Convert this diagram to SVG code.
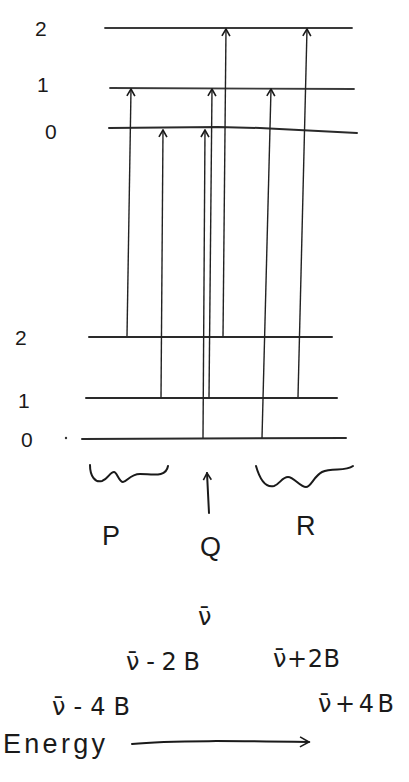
<svg xmlns="http://www.w3.org/2000/svg" width="409" height="782" viewBox="0 0 409 782">
<style>
  .lvl{stroke:#2a2a2a;stroke-width:2;fill:none;stroke-linecap:round}
  .lvlu{stroke:#3a3a3a;stroke-width:1.8;fill:none;stroke-linecap:round}
  .tr{stroke:#222;stroke-width:1.4;fill:none}
  .ink{stroke:#1a1a1a;stroke-width:2;fill:none;stroke-linecap:round;stroke-linejoin:round}
  .num{font-family:"Liberation Sans",Arial,sans-serif;font-size:21px;fill:#1a1a1a}
  .big{font-family:"Liberation Sans",Arial,sans-serif;font-size:27px;fill:#1a1a1a}
  .nu{font-family:"DejaVu Sans","Liberation Sans",sans-serif;font-size:24px;fill:#1a1a1a}
</style>
<defs>
  <marker id="ah" markerWidth="10" markerHeight="10" refX="9" refY="5" orient="auto" markerUnits="userSpaceOnUse" viewBox="0 0 10 10">
    <path d="M2,1 L9,5 L2,9" fill="none" stroke="#1a1a1a" stroke-width="1.6"/>
  </marker>
  <marker id="ah2" markerWidth="12" markerHeight="12" refX="10" refY="6" orient="auto" markerUnits="userSpaceOnUse" viewBox="0 0 12 12">
    <path d="M1,1 L10,6 L1,11" fill="none" stroke="#1a1a1a" stroke-width="1.6"/>
  </marker>
</defs>
<rect width="409" height="782" fill="#ffffff"/>

<g id="upper-levels">
  <g id="u2"><line class="lvlu" x1="105" y1="28" x2="352" y2="28"/><text class="num" x="35" y="36">2</text></g>
  <g id="u1"><line class="lvlu" x1="110" y1="88" x2="354" y2="89"/><text class="num" x="37" y="92">1</text></g>
  <g id="u0"><path class="lvl" d="M109,128 L218,127 L260,128 L357,133"/><text class="num" x="45" y="139">0</text></g>
</g>

<g id="lower-levels">
  <g id="l2"><line class="lvl" x1="89" y1="337" x2="332" y2="337"/><text class="num" x="15" y="345">2</text></g>
  <g id="l1"><line class="lvl" x1="86" y1="398" x2="337" y2="398"/><text class="num" x="18" y="408">1</text></g>
  <g id="l0"><line class="lvl" x1="82" y1="439" x2="346" y2="438"/><text class="num" x="21" y="447">0</text><circle cx="66" cy="438" r="1.2" fill="#333"/></g>
</g>

<g id="connectors">
  <line class="tr" x1="127" y1="336" x2="131" y2="89" marker-end="url(#ah)"/>
  <line class="tr" x1="161" y1="398" x2="163" y2="130" marker-end="url(#ah)"/>
  <line class="tr" x1="203" y1="438" x2="205" y2="130" marker-end="url(#ah)"/>
  <line class="tr" x1="209" y1="398" x2="212" y2="89" marker-end="url(#ah)"/>
  <line class="tr" x1="223" y1="337" x2="226" y2="29" marker-end="url(#ah)"/>
  <line class="tr" x1="262" y1="438" x2="271" y2="89" marker-end="url(#ah)"/>
  <line class="tr" x1="298" y1="397" x2="307" y2="29" marker-end="url(#ah)"/>
</g>

<g id="branch-P">
  <path class="ink" d="M90,465 C90,476 95,483 102,481 C108,479 110,472 114,472 C117,472 119,482 123,482 C127,482 130,474 140,474 C152,474 166,478 168,466"/>
  <text class="big" x="102" y="545">P</text>
</g>
<g id="branch-Q">
  <line class="ink" x1="209" y1="513" x2="207" y2="473" marker-end="url(#ah)"/>
  <text class="big" x="200" y="556">Q</text>
</g>
<g id="branch-R">
  <path class="ink" d="M256,466 C260,480 266,488 274,486 C280,484 282,477 288,477 C294,477 300,487 306,487 C311,487 314,476 322,472 C332,467 345,472 353,466"/>
  <text class="big" x="296" y="535">R</text>
</g>

<g id="frequencies">
  <text class="nu" x="198" y="625">ν̄</text>
  <text class="nu" x="126" y="670" textLength="74" lengthAdjust="spacing">ν̄-2B</text>
  <text class="nu" x="273" y="667" textLength="67" lengthAdjust="spacing">ν̄+2B</text>
  <text class="nu" x="52" y="715" textLength="78" lengthAdjust="spacing">ν̄-4B</text>
  <text class="nu" x="318" y="712" textLength="76" lengthAdjust="spacing">ν̄+4B</text>
</g>

<g id="energy-axis">
  <text class="big" x="3" y="753" textLength="102" lengthAdjust="spacing">Energy</text>
  <path class="ink" d="M132,744 C170,740 240,741 309,742" marker-end="url(#ah2)"/>
</g>
</svg>
